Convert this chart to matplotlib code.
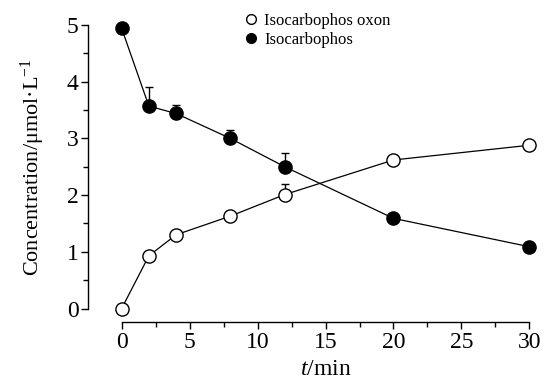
import numpy as np
import matplotlib.pyplot as plt
from matplotlib.ticker import MultipleLocator
from matplotlib.lines import Line2D

# === Дані ===
t = [0, 2, 4, 8, 12, 20, 30]
oxon = [0.0, 0.93, 1.30, 1.63, 2.01, 2.62, 2.88]
oxon_err = [0.0, 0.08, 0.08, 0.08, 0.19, 0.06, 0.0]
iso = [4.94, 3.57, 3.44, 3.00, 2.50, 1.59, 1.09]
iso_err = [0.0, 0.33, 0.15, 0.15, 0.24, 0.0, 0.0]
labels = ['Isocarbophos oxon', 'Isocarbophos']

plt.rcParams['font.family'] = ['Liberation Serif', 'DejaVu Serif']
plt.rcParams['mathtext.fontset'] = 'custom'
plt.rcParams['mathtext.rm'] = 'Liberation Serif'
plt.rcParams['mathtext.it'] = 'Liberation Serif:italic'

fig = plt.figure(figsize=(5.45, 3.82), dpi=100)
ax = fig.add_axes([0.2233, 0.1924, 0.748, 0.742])

ax.errorbar(t, oxon, yerr=[np.zeros(len(t)), oxon_err], fmt='-o', color='black',
            mfc='white', mec='black', ms=9.5, mew=1.0, lw=0.9, capsize=3,
            elinewidth=1.0, capthick=1.0, clip_on=False, zorder=3)
ax.errorbar(t, iso, yerr=[np.zeros(len(t)), iso_err], fmt='-o', color='black',
            mfc='black', mec='black', ms=9.5, mew=1.0, lw=0.9, capsize=3,
            elinewidth=1.0, capthick=1.0, clip_on=False, zorder=3)

ax.set_xlim(0, 30)
ax.set_ylim(0, 5)
ax.xaxis.set_major_locator(MultipleLocator(5))
ax.xaxis.set_minor_locator(MultipleLocator(2.5))
ax.yaxis.set_major_locator(MultipleLocator(1))
ax.yaxis.set_minor_locator(MultipleLocator(0.5))

for s in ['top', 'right']:
    ax.spines[s].set_visible(False)
ax.spines['left'].set_position(('outward', 24))
ax.spines['bottom'].set_position(('outward', 10))
ax.spines['left'].set_linewidth(1.0)
ax.spines['bottom'].set_linewidth(1.0)

ax.tick_params(which='major', direction='out', length=5, width=1.0,
               labelsize=17, pad=2)
ax.tick_params(which='minor', direction='out', length=3.5, width=1.0)

ax.set_xlabel('$t$/min', fontsize=17, labelpad=4)
ax.set_ylabel('Concentration/μmol·L$^{-1}$', fontsize=16, labelpad=14)

handles = [
    Line2D([], [], ls='none', marker='o', mfc='white', mec='black', ms=7, mew=1.0),
    Line2D([], [], ls='none', marker='o', mfc='black', mec='black', ms=7, mew=1.0),
]
ax.legend(handles, labels, loc='upper left', bbox_to_anchor=(0.448, 0.967),
          bbox_transform=fig.transFigure, frameon=False, fontsize=12,
          handlelength=0.8, handletextpad=0.4, labelspacing=0.2,
          borderaxespad=0, borderpad=0)

plt.savefig('out.png', dpi=100)
